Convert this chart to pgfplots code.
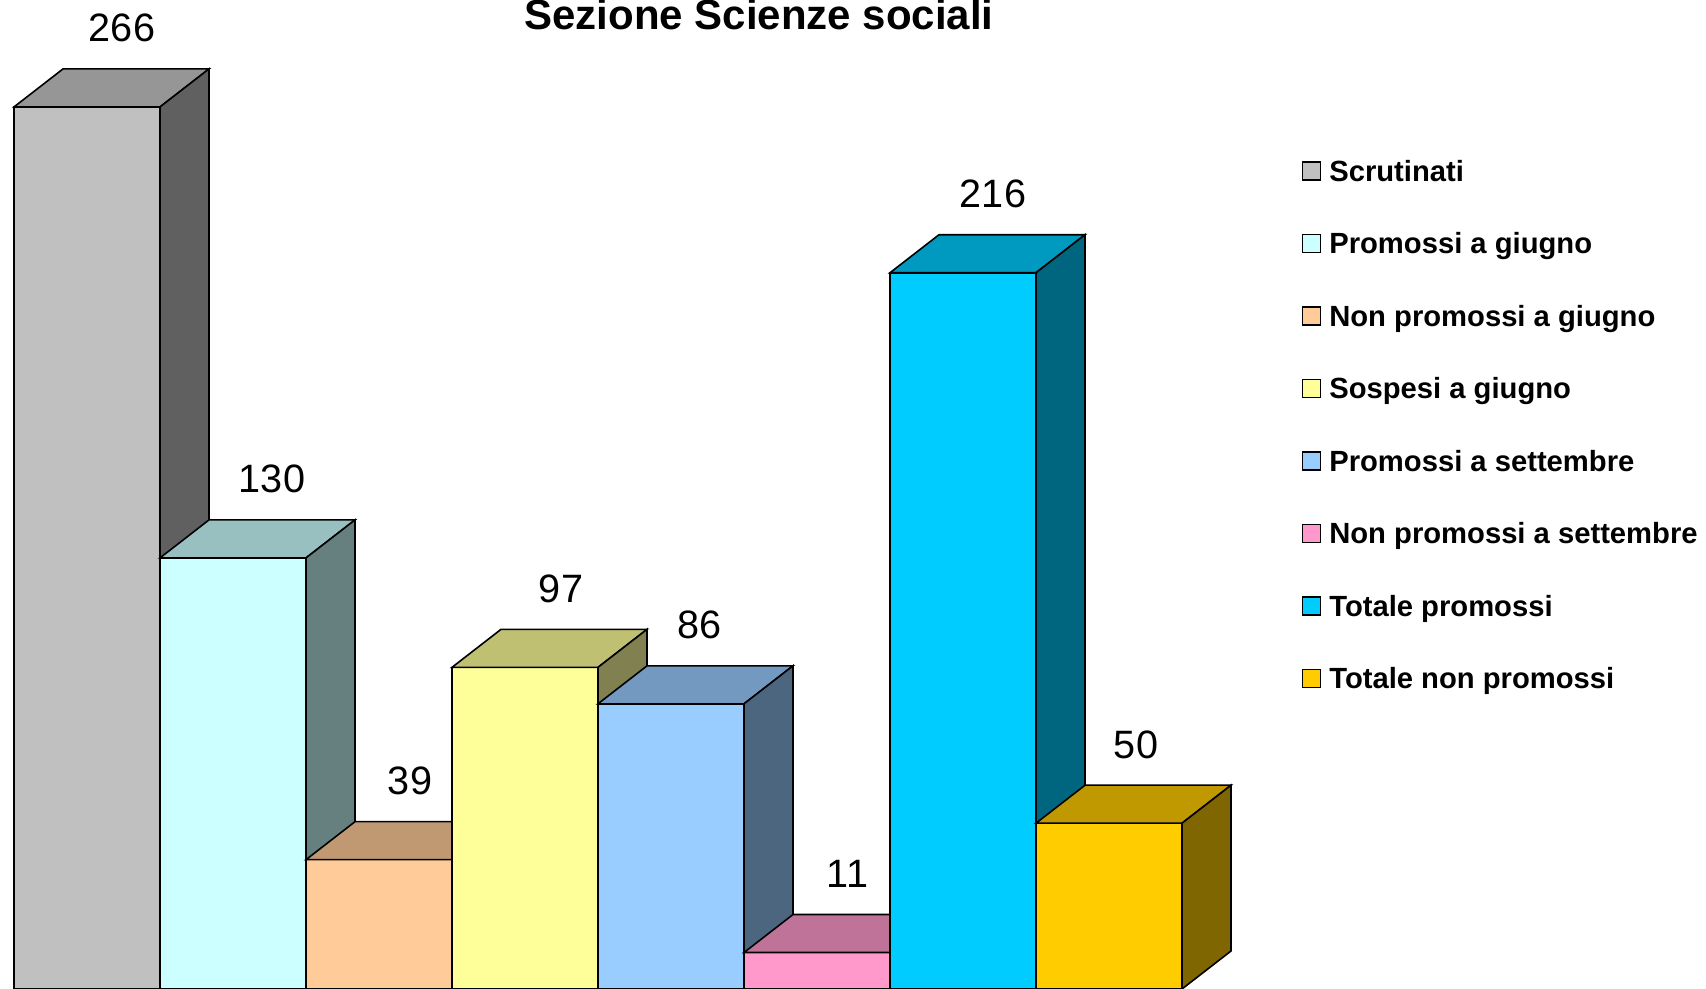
\documentclass[border=0pt]{standalone}
\usepackage{pgfplots}
\pgfplotsset{compat=1.18}
\usepackage{fontspec}
\setmainfont{Liberation Sans}

\definecolor{f1}{HTML}{C0C0C0}\definecolor{t1}{HTML}{969696}\definecolor{s1}{HTML}{606060}
\definecolor{f2}{HTML}{CCFFFF}\definecolor{t2}{HTML}{99C0C0}\definecolor{s2}{HTML}{668080}
\definecolor{f3}{HTML}{FFCC99}\definecolor{t3}{HTML}{C09973}\definecolor{s3}{HTML}{806650}
\definecolor{f4}{HTML}{FFFF99}\definecolor{t4}{HTML}{C0C073}\definecolor{s4}{HTML}{808050}
\definecolor{f5}{HTML}{99CCFF}\definecolor{t5}{HTML}{7399C0}\definecolor{s5}{HTML}{4D6680}
\definecolor{f6}{HTML}{FF99CC}\definecolor{t6}{HTML}{C07399}\definecolor{s6}{HTML}{804D66}
\definecolor{f7}{HTML}{00CCFF}\definecolor{t7}{HTML}{0099C0}\definecolor{s7}{HTML}{006680}
\definecolor{f8}{HTML}{FFCC00}\definecolor{t8}{HTML}{C09900}\definecolor{s8}{HTML}{806600}

\newcommand{\vfont}{\fontsize{19.8}{23}\selectfont}

% #1 position index, #2 value, #3 front, #4 top, #5 side colour, #6 label x offset
\newcommand{\tdbar}[6]{%
  \pgfmathsetmacro\xa{14+146*#1}%
  \pgfmathsetmacro\xb{\xa+146}%
  \pgfmathsetmacro\xc{\xa+49}%
  \pgfmathsetmacro\xd{\xb+49}%
  \pgfmathsetmacro\vt{#2+11.46}%
  \pgfmathsetmacro\lx{\xa+#6}%
  \pgfmathsetmacro\ly{#2+19.6}%
  \edef\doit{%
    \noexpand\addplot[fill=#3,draw=black,line width=0.8pt] coordinates {(\xa,0) (\xa,#2) (\xb,#2) (\xb,0)} -- cycle;
    \noexpand\addplot[fill=#4,draw=black,line width=0.8pt,forget plot] coordinates {(\xa,#2) (\xc,\vt) (\xd,\vt) (\xb,#2)} -- cycle;
    \noexpand\addplot[fill=#5,draw=black,line width=0.8pt,forget plot] coordinates {(\xb,0) (\xb,#2) (\xd,\vt) (\xd,11.46)} -- cycle;
    \noexpand\node[font=\noexpand\vfont,anchor=base] at (axis cs:\lx,\ly) {#2};
  }%
  \doit}

\begin{document}
\begin{tikzpicture}
\begin{axis}[
  scale only axis,
  width=853pt, height=494.5pt,
  xmin=0, xmax=1706, ymin=0, ymax=298.25,
  hide axis, clip=false,
  legend image code/.code={\draw[#1,line width=0.8pt] (0pt,-4.5pt) rectangle (9pt,4.5pt);},
  legend cell align=left,
  legend style={at={(axis cs:1301.5,249.8)}, anchor=north west, draw=none, fill=none,
    inner sep=0pt, outer sep=0pt,
    font=\bfseries\fontsize{14.6}{17}\selectfont,
    row sep=25.95pt,
    nodes={inner xsep=4.1pt, inner ysep=0pt, text height=10.3pt, text depth=0pt}},
  legend entries={Scrutinati, Promossi a giugno, Non promossi a giugno, Sospesi a giugno,
    Promossi a settembre, Non promossi a settembre, Totale promossi, Totale non promossi},
]
\tdbar{0}{266}{f1}{t1}{s1}{108}
\tdbar{1}{130}{f2}{t2}{s2}{112}
\tdbar{2}{39}{f3}{t3}{s3}{104}
\tdbar{3}{97}{f4}{t4}{s4}{109}
\tdbar{4}{86}{f5}{t5}{s5}{101.5}
\tdbar{5}{11}{f6}{t6}{s6}{103.5}
\tdbar{6}{216}{f7}{t7}{s7}{103}
\tdbar{7}{50}{f8}{t8}{s8}{100}
\node[font=\bfseries\fontsize{21}{25}\selectfont, anchor=base] at (axis cs:759,289.2) {Sezione Scienze sociali};
\end{axis}
\pgfresetboundingbox
\useasboundingbox (current axis.south west) rectangle (current axis.north east);
\end{tikzpicture}
\end{document}
